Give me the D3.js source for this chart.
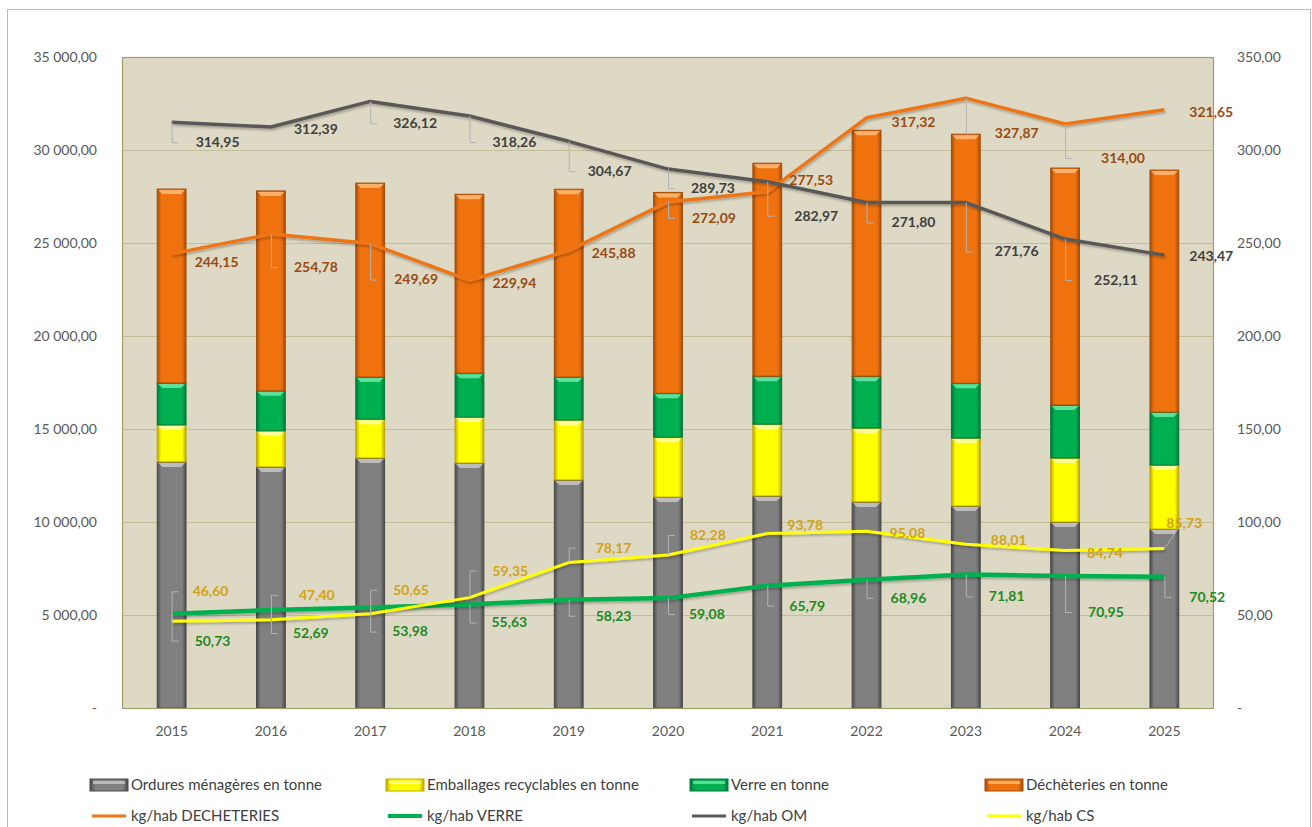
<!DOCTYPE html>
<html>
<head>
<meta charset="utf-8">
<script src="https://cdn.jsdelivr.net/npm/d3@7"></script>
<style>
  body { margin: 0; background: #fff; }
  svg { display: block; font-family: Lato, "Open Sans", sans-serif; }
</style>
</head>
<body>
<div id="chart"></div>
<script>
// data
var years = ["2015", "2016", "2017", "2018", "2019", "2020", "2021", "2022", "2023", "2024", "2025"];

// tonnes (stacked bars, left axis)
var omTonnes          = [13230, 12960, 13440, 13170, 12260, 11340, 11400, 11080, 10860, 10000, 9620];
var emballagesTonnes  = [1990, 1940, 2090, 2470, 3220, 3220, 3860, 3970, 3650, 3440, 3440];
var verreTonnes       = [2250, 2150, 2260, 2360, 2310, 2360, 2580, 2790, 2950, 2850, 2850];
var decheteriesTonnes = [10430, 10750, 10430, 9620, 10100, 10800, 11450, 13220, 13390, 12740, 13010];

// kg/hab (lines, right axis)
var kgDecheteries = [244.15, 254.78, 249.69, 229.94, 245.88, 272.09, 277.53, 317.32, 327.87, 314.00, 321.65];
var kgVerre       = [50.73, 52.69, 53.98, 55.63, 58.23, 59.08, 65.79, 68.96, 71.81, 70.95, 70.52];
var kgOM          = [314.95, 312.39, 326.12, 318.26, 304.67, 289.73, 282.97, 271.80, 271.76, 252.11, 243.47];
var kgCS          = [46.60, 47.40, 50.65, 59.35, 78.17, 82.28, 93.78, 95.08, 88.01, 84.74, 85.73];

var leftTicks  = [0, 5000, 10000, 15000, 20000, 25000, 30000, 35000];
var rightTicks = [0, 50, 100, 150, 200, 250, 300, 350];

// layout: where each data label sits relative to its point (dx to left edge, dy to middle)
var labelPos = {
  dech:  [[23,8],[23,33],[24,36],[23,3],[23,2],[24,16],[22,-12],[25,4],[29,35],[36,34],[25,2]],
  verre: [[23,27],[22,23],[22,24],[22,18],[27,16],[21,16],[22,20],[24,18],[23,22],[23,36],[25,20]],
  om:    [[24,20],[23,2],[23,22],[23,26],[19,30],[23,19],[27,34],[25,20],[29,49],[29,41],[25,1]],
  cs:    [[21,-30],[28,-25],[23,-24],[23,-27],[27,-15],[22,-20],[20,-8],[23,2],[25,-4],[22,3],[2,-25]]
};

var W = 1312, H = 827;
var margin = {top: 57, right: 98, bottom: 119, left: 122};
var width = W - margin.left - margin.right,
    height = H - margin.top - margin.bottom;

var fr = d3.formatLocale({decimal: ",", thousands: "\u00a0", grouping: [3], currency: ["", " €"]});
var fmtTick = function(v) { return v === 0 ? "-" : fr.format(",.2f")(v); };
var fmtLabel = fr.format(".2f");

var svg = d3.select("#chart").append("svg")
  .attr("width", W)
  .attr("height", H);

// outer chart border
svg.append("rect")
  .attr("x", 7.5).attr("y", 9.5)
  .attr("width", 1303).attr("height", 840)
  .attr("fill", "none").attr("stroke", "#bdbdbd");

var defs = svg.append("defs");

var barSeries = [
  {key: "om",   name: "Ordures ménagères en tonne",        values: omTonnes,          base: "#808080", dark: "#4a4a4a", light: "#c8c8c8"},
  {key: "emb",  name: "Emballages recyclables en tonne",   values: emballagesTonnes,  base: "#ffff00", dark: "#bfa800", light: "#ffffb0"},
  {key: "ver",  name: "Verre en tonne",                    values: verreTonnes,       base: "#00b050", dark: "#00773a", light: "#70e8a8"},
  {key: "dec",  name: "Déchèteries en tonne",              values: decheteriesTonnes, base: "#f0720e", dark: "#a44c08", light: "#ffbb7a"}
];

var lineSeries = [
  {key: "dech",  name: "kg/hab DECHETERIES", values: kgDecheteries, color: "#ee7518", width: 3.5, labelColor: "#9a4a12"},
  {key: "verre", name: "kg/hab VERRE",       values: kgVerre,       color: "#00b050", width: 4.5, labelColor: "#1f8a1f"},
  {key: "om",    name: "kg/hab OM",          values: kgOM,          color: "#595959", width: 3.5, labelColor: "#404040"},
  {key: "cs",    name: "kg/hab CS",          values: kgCS,          color: "#ffff00", width: 3,   labelColor: "#d1a316"}
];

barSeries.forEach(function(s) {
  var g = defs.append("linearGradient").attr("id", "grad-" + s.key)
    .attr("x1", 0).attr("x2", 1).attr("y1", 0).attr("y2", 0);
  g.append("stop").attr("offset", "0%").attr("stop-color", s.dark);
  g.append("stop").attr("offset", "14%").attr("stop-color", s.base);
  g.append("stop").attr("offset", "86%").attr("stop-color", s.base);
  g.append("stop").attr("offset", "100%").attr("stop-color", s.dark);
});

var shadow = defs.append("filter").attr("id", "shadow")
  .attr("x", "-5%").attr("y", "-20%").attr("width", "110%").attr("height", "140%");
shadow.append("feDropShadow").attr("dx", 1).attr("dy", 2).attr("stdDeviation", 1.2)
  .attr("flood-color", "#000").attr("flood-opacity", 0.25);

var chart = svg.append("g")
  .attr("transform", "translate(" + margin.left + "," + margin.top + ")");

var x = d3.scaleBand().domain(years).range([0, width]);
var yL = d3.scaleLinear().domain([0, 35000]).range([height, 0]);
var yR = d3.scaleLinear().domain([0, 350]).range([height, 0]);
var barW = x.bandwidth() * 0.29;

// plot area
chart.append("rect")
  .attr("width", width).attr("height", height)
  .attr("fill", "#ddd9c4");

chart.selectAll(".grid")
  .data(leftTicks.filter(function(d) { return d > 0; }))
  .enter().append("line")
  .attr("class", "grid")
  .attr("x1", 0).attr("x2", width)
  .attr("y1", function(d) { return Math.round(yL(d)) + 0.5; })
  .attr("y2", function(d) { return Math.round(yL(d)) + 0.5; })
  .attr("stroke", "#c4bd97").attr("stroke-width", 1);

// axes
var axL = chart.append("g")
  .call(d3.axisLeft(yL).tickValues(leftTicks).tickSize(0).tickPadding(25).tickFormat(fmtTick));
var axR = chart.append("g")
  .attr("transform", "translate(" + width + ",0)")
  .call(d3.axisRight(yR).tickValues(rightTicks).tickSize(0).tickPadding(23).tickFormat(fmtTick));
var axX = chart.append("g")
  .attr("transform", "translate(0," + height + ")")
  .call(d3.axisBottom(x).tickSize(0).tickPadding(18));

[axL, axR, axX].forEach(function(a) {
  a.select(".domain").remove();
  a.selectAll("text").attr("fill", "#595959").style("font-size", "14px").style("font-family", "Lato, sans-serif");
});

// stacked bars
var rows = years.map(function(yr, i) {
  var r = {year: yr};
  barSeries.forEach(function(s) { r[s.key] = s.values[i]; });
  return r;
});
var stack = d3.stack().keys(barSeries.map(function(s) { return s.key; }));
var layers = stack(rows);

layers.forEach(function(layer, li) {
  var s = barSeries[li];
  var lg = chart.append("g").attr("class", "layer-" + s.key);
  lg.selectAll("rect.seg")
    .data(layer)
    .enter().append("rect")
    .attr("class", "seg")
    .attr("x", function(d) { return x(d.data.year) + (x.bandwidth() - barW) / 2; })
    .attr("y", function(d) { return yL(d[1]); })
    .attr("width", barW)
    .attr("height", function(d) { return yL(d[0]) - yL(d[1]); })
    .attr("fill", "url(#grad-" + s.key + ")")
    .attr("stroke", s.dark).attr("stroke-width", 1);
  // bevel highlight on top of each segment
  lg.selectAll("path.cap")
    .data(layer)
    .enter().append("path")
    .attr("class", "cap")
    .attr("d", function(d) {
      var x0 = x(d.data.year) + (x.bandwidth() - barW) / 2, y0 = yL(d[1]);
      return "M" + (x0 + 1) + "," + (y0 + 1) + "H" + (x0 + barW - 1) +
        "L" + (x0 + barW - 5) + "," + (y0 + 5) + "H" + (x0 + 5) + "Z";
    })
    .attr("fill", s.light).attr("opacity", 0.85);
});

// plot border drawn above the bars' bottom
chart.append("rect")
  .attr("x", 0.5).attr("y", 0.5)
  .attr("width", width - 1).attr("height", height)
  .attr("fill", "none").attr("stroke", "#a09d6e").attr("stroke-width", 1.2);

// lines
var cx = function(i) { return x(years[i]) + x.bandwidth() / 2; };
var line = d3.line()
  .x(function(d, i) { return cx(i); })
  .y(function(d) { return yR(d); });

lineSeries.forEach(function(s) {
  chart.append("path")
    .datum(s.values)
    .attr("d", line)
    .attr("fill", "none")
    .attr("stroke", s.color)
    .attr("stroke-width", s.width)
    .attr("stroke-linejoin", "round")
    .attr("filter", "url(#shadow)");
});

// leader lines + labels
var labelsG = chart.append("g");
lineSeries.forEach(function(s) {
  s.values.forEach(function(v, i) {
    var px = cx(i), py = yR(v);
    var off = labelPos[s.key][i];
    var lx = px + off[0], ly = py + off[1];
    if (Math.abs(off[1]) > 12) {
      var d;
      if (off[0] < 12) {
        d = "M" + px + "," + py + "L" + (lx + 10) + "," + (ly + 8);
      } else {
        d = "M" + (px + 0.5) + "," + py + "V" + (ly + 0.5) + "H" + (px + 7);
      }
      labelsG.append("path")
        .attr("d", d)
        .attr("fill", "none")
        .attr("stroke", "#b3b3b3")
        .attr("stroke-width", 1);
    }
    labelsG.append("text")
      .attr("x", lx).attr("y", ly)
      .attr("dy", "0.35em")
      .attr("fill", s.labelColor)
      .style("font-size", "14px")
      .style("font-weight", 700)
      .text(fmtLabel(v));
  });
});

// legend
var legendCols = [90, 386, 690, 985];
var legend = svg.append("g").style("font-size", "15px").attr("fill", "#404040");

barSeries.forEach(function(s, i) {
  var g = legend.append("g").attr("transform", "translate(" + legendCols[i] + ",785)");
  g.append("rect")
    .attr("x", 0).attr("y", -6).attr("width", 38).attr("height", 12)
    .attr("fill", "url(#grad-" + s.key + ")")
    .attr("stroke", s.dark);
  g.append("rect")
    .attr("x", 3).attr("y", -4).attr("width", 32).attr("height", 3)
    .attr("fill", s.light).attr("opacity", 0.8);
  g.append("text").attr("x", 41).attr("dy", "0.35em").text(s.name);
});

lineSeries.forEach(function(s, i) {
  var g = legend.append("g").attr("transform", "translate(" + legendCols[i] + ",816)");
  g.append("line")
    .attr("x1", 2).attr("x2", 36)
    .attr("stroke", s.color).attr("stroke-width", s.key === "verre" ? 4 : 3);
  g.append("text").attr("x", 41).attr("dy", "0.35em").text(s.name);
});
</script>
</body>
</html>
